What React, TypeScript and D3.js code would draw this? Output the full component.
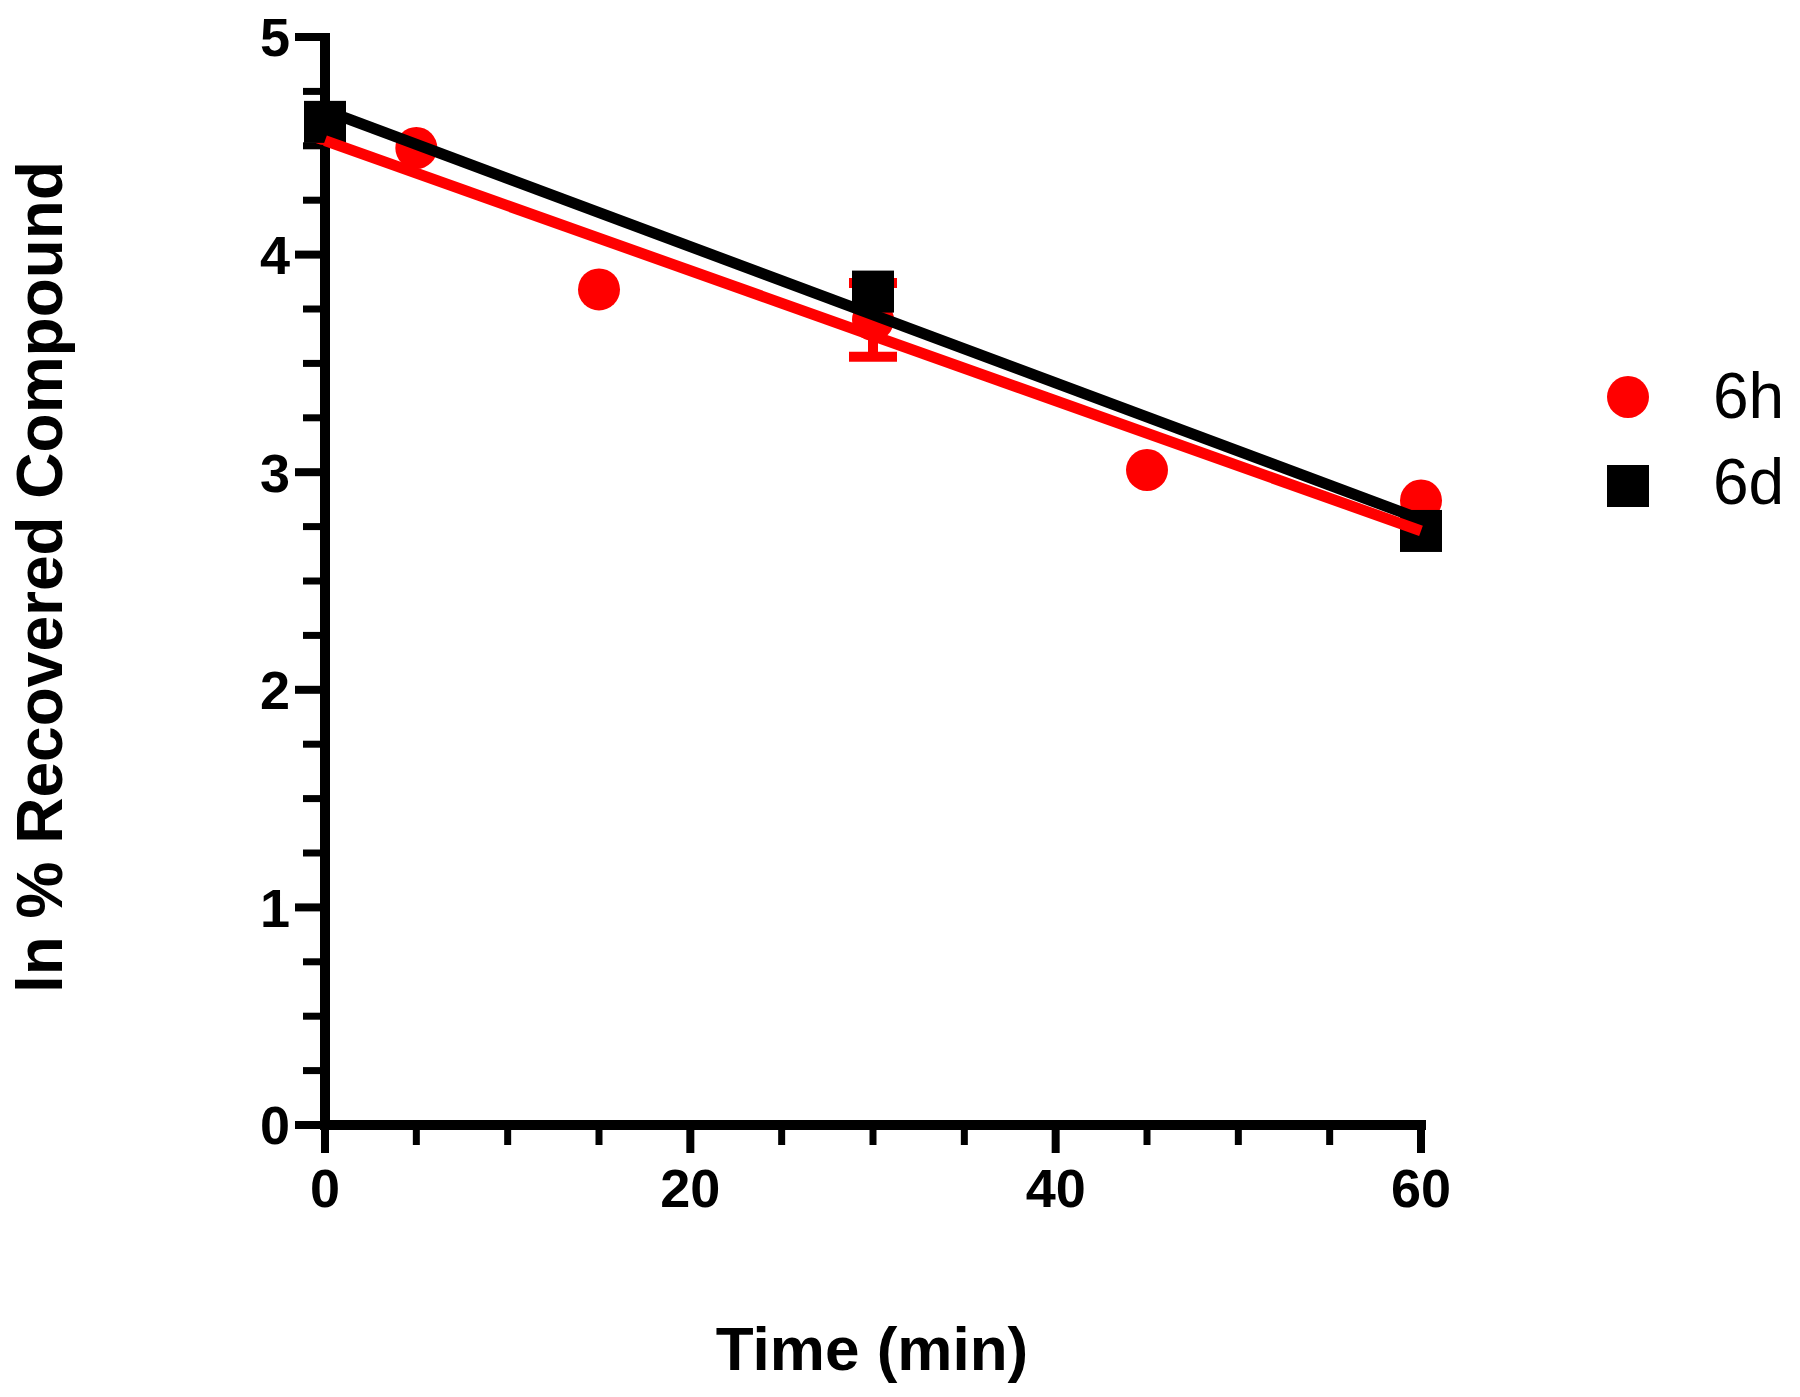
import React from 'react';
import * as d3 from 'd3';

// ln % recovered compound over time
const times6h = [0, 5, 15, 30, 45, 60];
const values6h = [4.6, 4.49, 3.84, 3.7, 3.01, 2.87];
const errors6h = [0, 0, 0, 0.17, 0, 0];

const times6d = [0, 30, 60];
const values6d = [4.61, 3.83, 2.73];

const xMajor = [0, 20, 40, 60];
const yMajor = [0, 1, 2, 3, 4, 5];

function fit(xs: number[], ys: number[]) {
  const mx = d3.mean(xs) as number;
  const my = d3.mean(ys) as number;
  let sxy = 0;
  let sxx = 0;
  xs.forEach((x, i) => {
    sxy += (x - mx) * (ys[i] - my);
    sxx += (x - mx) * (x - mx);
  });
  const slope = sxy / sxx;
  return { slope, intercept: my - slope * mx };
}

export default function App() {
  const width = 1800;
  const height = 1397;

  const x = d3.scaleLinear().domain([0, 60]).range([325, 1421]);
  const y = d3.scaleLinear().domain([0, 5]).range([1125, 37]);

  const xMinor = d3.range(0, 61, 5).filter(v => xMajor.indexOf(v) < 0);
  const yMinor = d3.range(0, 5.01, 0.25).filter(v => Math.abs(v - Math.round(v)) > 0.01);

  const line = d3.line<number>().x(t => x(t));
  const f6h = fit(times6h, values6h);
  const f6d = fit(times6d, values6d);
  const lineD = (f: { slope: number; intercept: number }) =>
    d3.line<number>().x(t => x(t)).y(t => y(f.intercept + f.slope * t))([0, 60]);

  const red = '#ff0000';
  const font = '"Liberation Sans", Arial, sans-serif';
  const r = 21;
  const sq = 42;

  return (
    <div style={{ position: 'absolute', left: 0, top: 0 }}>
      <svg width={width} height={height} style={{ display: 'block', background: '#fff' }}>
        {/* axes */}
        <g stroke="#000" fill="none">
          <line x1={x(0)} x2={x(0)} y1={y(5) - 4} y2={y(0) + 5} strokeWidth={10} />
          <line x1={x(0) - 5} x2={x(60) + 5} y1={y(0)} y2={y(0)} strokeWidth={10} />
          {yMajor.map(v => (
            <line key={'ym' + v} x1={x(0) - 30} x2={x(0)} y1={y(v)} y2={y(v)} strokeWidth={8} />
          ))}
          {yMinor.map(v => (
            <line key={'yn' + v} x1={x(0) - 22} x2={x(0)} y1={y(v)} y2={y(v)} strokeWidth={7} />
          ))}
          {xMajor.map(v => (
            <line key={'xm' + v} x1={x(v)} x2={x(v)} y1={y(0)} y2={y(0) + 28} strokeWidth={8} />
          ))}
          {xMinor.map(v => (
            <line key={'xn' + v} x1={x(v)} x2={x(v)} y1={y(0)} y2={y(0) + 20} strokeWidth={7} />
          ))}
        </g>

        {/* tick labels */}
        <g fontFamily={font} fontWeight="bold" fontSize={54} fill="#000">
          {yMajor.map(v => (
            <text key={'yl' + v} x={290} y={y(v)} dy="0.36em" textAnchor="end">{v}</text>
          ))}
          {xMajor.map(v => (
            <text key={'xl' + v} x={x(v)} y={1207} textAnchor="middle">{v}</text>
          ))}
        </g>

        {/* axis titles */}
        <text
          transform={`translate(62, 577) rotate(-90)`}
          textAnchor="middle"
          fontFamily={font}
          fontWeight="bold"
          fontSize={64}
        >ln % Recovered Compound</text>
        <text x={872} y={1370} textAnchor="middle" fontFamily={font} fontWeight="bold" fontSize={62}>
          Time (min)
        </text>

        {/* 6h points with error bars */}
        <g>
          {times6h.map((t, i) =>
            errors6h[i] > 0 ? (
              <g key={'e' + i} stroke={red} strokeWidth={10}>
                <line x1={x(t)} x2={x(t)} y1={y(values6h[i] - errors6h[i])} y2={y(values6h[i] + errors6h[i])} />
                <line x1={x(t) - 24} x2={x(t) + 24} y1={y(values6h[i] - errors6h[i])} y2={y(values6h[i] - errors6h[i])} />
                <line x1={x(t) - 24} x2={x(t) + 24} y1={y(values6h[i] + errors6h[i])} y2={y(values6h[i] + errors6h[i])} />
              </g>
            ) : null
          )}
          {times6h.map((t, i) => (
            <circle key={'c' + i} cx={x(t)} cy={y(values6h[i])} r={r} fill={red} />
          ))}
        </g>

        {/* 6d points */}
        <g>
          {times6d.map((t, i) => (
            <rect key={'s' + i} x={x(t) - sq / 2} y={y(values6d[i]) - sq / 2} width={sq} height={sq} fill="#000" />
          ))}
        </g>

        {/* fitted lines */}
        <path d={lineD(f6d) || ''} stroke="#000" strokeWidth={11} fill="none" />
        <path d={lineD(f6h) || ''} stroke={red} strokeWidth={11} fill="none" />

        {/* legend */}
        <circle cx={1628} cy={397} r={r} fill={red} />
        <rect x={1628 - sq / 2} y={486 - sq / 2} width={sq} height={sq} fill="#000" />
        <g fontFamily={font} fontSize={64} fill="#000">
          <text x={1713} y={418}>6h</text>
          <text x={1713} y={504}>6d</text>
        </g>
      </svg>
    </div>
  );
}
